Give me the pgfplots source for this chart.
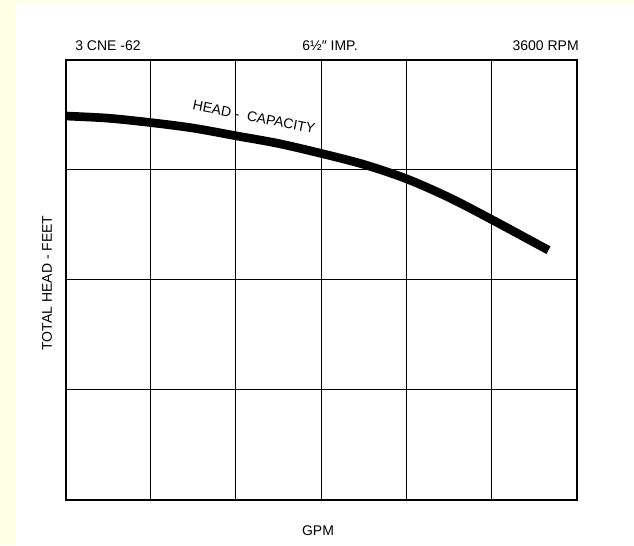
\documentclass[border=0pt]{standalone}
\usepackage{pgfplots}
\pgfplotsset{compat=1.18}
\usepackage{fontspec}
\setmainfont{Liberation Sans}
\definecolor{bgyellow}{RGB}{255,255,228}
\begin{document}
\begin{tikzpicture}[x=0.75pt,y=0.75pt]
\path[use as bounding box] (0,0) rectangle (634,545);
\fill[white] (0,0) rectangle (634,545);
\fill[bgyellow] (0,0) rectangle (16,545);
\fill[bgyellow] (0,542) rectangle (634,545);
\begin{axis}[
  at={(77,41)}, anchor=south west,
  scale only axis,
  width=383.25pt, height=330pt,
  xmin=0, xmax=6, ymin=0, ymax=4,
  xtick={0,...,6}, ytick={0,...,4},
  xticklabels={}, yticklabels={},
  major tick length=0pt,
  grid=major,
  grid style={black, line width=0.7pt},
  axis line style={black, line width=1.4pt},
  clip=false,
]
\addplot[black, line width=6.5pt, smooth, line cap=butt] coordinates {
(0,3.49) (0.5,3.47) (1.0,3.43) (1.5,3.38) (2.0,3.31) (2.5,3.24) (3.0,3.15)
(3.5,3.05) (4.0,2.92) (4.5,2.75) (5.0,2.55) (5.67,2.27)
};
\end{axis}
\node[anchor=base west, font=\fontsize{10.5}{12}\selectfont, inner sep=0pt] at (75,494) {3 CNE -62};
\node[anchor=base, font=\fontsize{10.5}{12}\selectfont, inner sep=0pt] at (330,494) {6½″ IMP.};
\node[anchor=base east, font=\fontsize{10.5}{12}\selectfont, inner sep=0pt] at (579,494) {3600 RPM};
\node[anchor=base, font=\fontsize{10.5}{12}\selectfont, inner sep=0pt] at (318,9) {GPM};
\node[rotate=90, font=\fontsize{10.5}{12}\selectfont, inner sep=0pt] at (47,262) {TOTAL HEAD - FEET};
\node[rotate=-11, font=\fontsize{10.5}{12}\selectfont, inner sep=0pt] at (254,428) {HEAD - \ CAPACITY};
\end{tikzpicture}
\end{document}
